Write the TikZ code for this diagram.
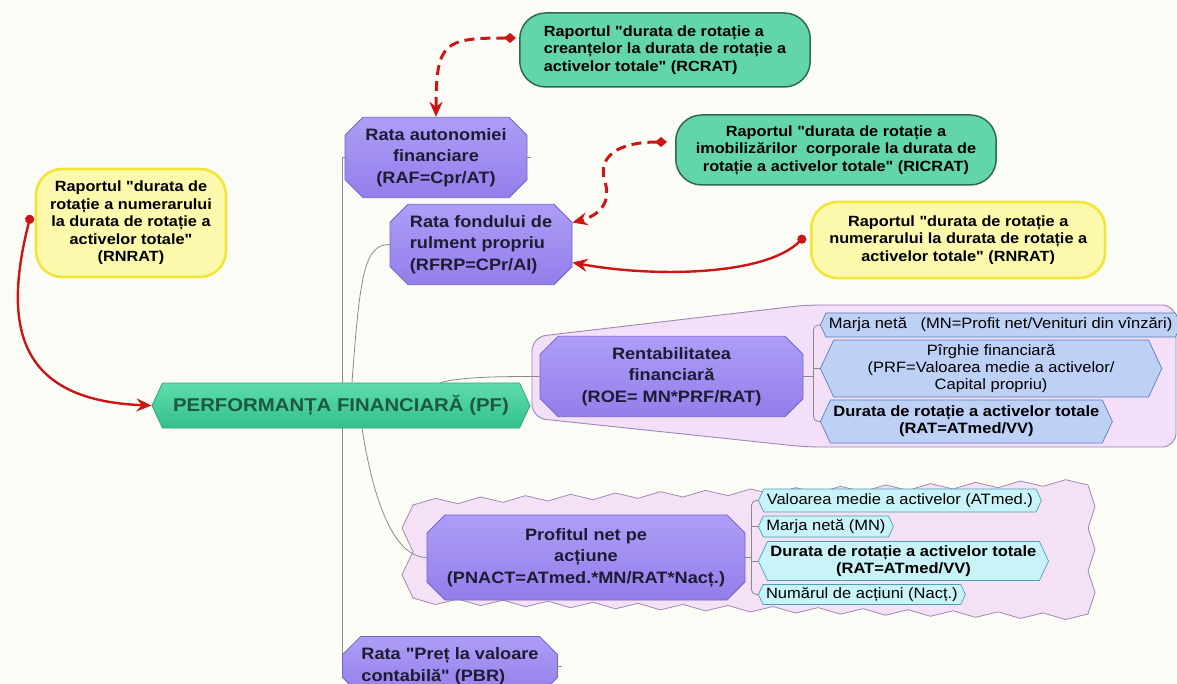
\documentclass[tikz,border=0pt]{standalone}
\usepackage{fontspec}
\setmainfont{Liberation Sans}[FakeStretch=1.1, Ligatures=TeXOff]
\usetikzlibrary{shapes.misc,shapes.symbols,arrows.meta,calc,backgrounds}
\definecolor{bgC}{HTML}{FCFCF6}
\definecolor{purpT}{HTML}{AE9DF7}
\definecolor{purpD}{HTML}{937EEA}
\definecolor{purpB}{HTML}{7565C6}
\definecolor{txtP}{HTML}{1E1B33}
\definecolor{pfT}{HTML}{5EDDAB}
\definecolor{pfD}{HTML}{33C08A}
\definecolor{pfB}{HTML}{2FA57A}
\definecolor{pfTxt}{HTML}{1C5844}
\definecolor{grnF}{HTML}{62D6A8}
\definecolor{grnB}{HTML}{2D6B4F}
\definecolor{yelF}{HTML}{FCF8AC}
\definecolor{yelB}{HTML}{F2E53A}
\definecolor{roeF}{HTML}{F3DFF7}
\definecolor{roeB}{HTML}{9E86B5}
\definecolor{pnaF}{HTML}{F5E1F6}
\definecolor{pnaB}{HTML}{A08AB2}
\definecolor{bluF}{HTML}{BDD0F5}
\definecolor{bluB}{HTML}{5E7FB6}
\definecolor{cyaF}{HTML}{C8F3F8}
\definecolor{cyaB}{HTML}{4E9FB2}
\definecolor{conC}{HTML}{8A8A8A}
\definecolor{redC}{HTML}{CC1616}
\newcommand\fmain{\fontsize{16.5}{21.5}\selectfont}
\newcommand\fpf{\fontsize{18.5}{22}\selectfont}
\newcommand\fcall{\fontsize{14.8}{17.5}\selectfont}
\newcommand\fsub{\fontsize{15}{17}\selectfont}
\begin{document}
\begin{tikzpicture}[x=1pt,y=-1pt,
  mainbox/.style={chamfered rectangle, chamfered rectangle xsep=9pt, chamfered rectangle ysep=9pt,
    draw=purpB, line width=0.8pt, top color=purpT, bottom color=purpD, text=txtP,
    font=\bfseries\fmain, inner sep=2pt, align=center},
  pfbox/.style={signal, signal to=west and east, signal pointer angle=130, draw=pfB, line width=0.8pt,
    top color=pfT, bottom color=pfD, text=pfTxt, font=\bfseries\fpf,
    minimum width=378pt, minimum height=45pt},
  greencall/.style={draw=grnB, line width=1.5pt, fill=grnF, rounded corners=26pt,
    font=\bfseries\fcall, inner xsep=20pt, inner ysep=6pt, minimum height=74pt},
  yelcall/.style={draw=yelB, line width=2.6pt, fill=yelF, rounded corners=26pt,
    font=\bfseries\fcall, inner xsep=18pt, inner ysep=6pt, align=center},
  subitem/.style={signal, signal to=west and east, signal pointer angle=130, line width=0.7pt,
    font=\fsub, align=center, inner xsep=3pt, inner ysep=2pt, anchor=west, text=black},
  bluesub/.style={subitem, draw=bluB, fill=bluF},
  cyansub/.style={subitem, draw=cyaB, fill=cyaF},
  conn/.style={draw=conC, line width=0.8pt},
  redsolid/.style={draw=redC, line width=2.4pt, {Circle[length=9pt]}-{Stealth[length=15pt,width=13pt,inset=5pt]}},
  reddash/.style={draw=redC, line width=3pt, dash pattern=on 10pt off 6pt,
    {Diamond[length=12pt,width=10pt]}-{Stealth[length=15pt,width=13pt,inset=5pt]}},
]
\useasboundingbox (0,0) rectangle (1177,684);

% main nodes
\node[pfbox] (PF) at (341,405.5) {PERFORMANȚA FINANCIARĂ (PF)};
\node[mainbox, minimum width=182pt, minimum height=65pt] (RAF) at (436,157.5) {Rata autonomiei\\financiare\\(RAF=Cpr/AT)};
\node[mainbox, minimum width=182pt, minimum height=65pt, align=left] (RFRP) at (481,244.5) {Rata fondului de\\rulment propriu\\(RFRP=CPr/AI)};
\node[mainbox, minimum width=263pt, minimum height=67pt] (ROE) at (671.5,376.5) {Rentabilitatea\\financiară\\(ROE= MN*PRF/RAT)};
\node[mainbox, minimum width=318pt, minimum height=85pt] (PNACT) at (586,557.5) {Profitul net pe\\acțiune\\(PNACT=ATmed.*MN/RAT*Nacț.)};
\node[mainbox, minimum width=215pt, minimum height=48pt, align=left] (PBR) at (450,666) {Rata "Preț la valoare\\contabilă" (PBR)};

% callouts
\node[greencall, anchor=west, align=left, inner xsep=24pt] (RCRAT) at (519,50) {Raportul "durata de rotație a\\creanțelor la durata de rotație a\\activelor totale" (RCRAT)};
\node[greencall, anchor=west, align=center, minimum height=70pt] (RICRAT) at (675,150) {Raportul "durata de rotație a\\imobilizărilor\ \ corporale la durata de\\rotație a activelor totale" (RICRAT)};
\node[yelcall, anchor=west, minimum height=76pt] (RNRATR) at (810,240) {Raportul "durata de rotație a\\numerarului la durata de rotație a\\activelor totale" (RNRAT)};
\node[yelcall, minimum height=108pt, inner xsep=14pt] (RNRATL) at (131,223) {Raportul "durata de\\rotație a numerarului\\la durata de rotație a\\activelor totale"\\(RNRAT)};

% sub items ROE
\node[bluesub, minimum height=24pt] (m1) at (820,325) {Marja netă\ \ \ (MN=Profit net/Venituri din vînzări)};
\node[bluesub, minimum height=57pt, inner xsep=34pt] (m2) at (820,368.5) {Pîrghie financiară\\(PRF=Valoarea medie a activelor/\\Capital propriu)};
\node[bluesub, minimum height=43pt, font=\bfseries\fsub] (m3) at (820,421.5) {Durata de rotație a activelor totale\\(RAT=ATmed/VV)};

% sub items PNACT
\node[cyansub, minimum height=23pt] (p1) at (758,500.5) {Valoarea medie a activelor (ATmed.)};
\node[cyansub, minimum height=21pt] (p2) at (758,526.5) {Marja netă (MN)};
\node[cyansub, minimum height=39pt, font=\bfseries\fsub] (p3) at (758,561) {Durata de rotație a activelor totale\\(RAT=ATmed/VV)};
\node[cyansub, minimum height=20pt] (p4) at (758,594.5) {Numărul de acțiuni (Nacț.)};

\coordinate (rb) at ($(ROE.east)+(10,0)$);
\coordinate (pb) at ($(PNACT.east)+(6,0)$);
\coordinate (vx) at ($(RAF.west)+(-2,0)$);

\begin{pgfonlayer}{background}
  \fill[bgC] (0,0) rectangle (1177,684);
  % groups
  \filldraw[fill=roeF, draw=roeB, line width=0.9pt, rounded corners=14pt]
    (532,337) -- (806,305) -- (1176,305) -- (1176,447) -- (806,447) -- (532,418) -- cycle;
  \filldraw[fill=pnaF, draw=pnaB, line width=0.8pt]
    (413,505)
    \foreach \i in {1,...,15}{ -- ++(22.5,-6.667) -- ++(22.5,5.333) }
    \foreach \i in {1,...,3}{ -- ++(7,21.5) -- ++(-7,21.5) }
    \foreach \i in {1,...,15}{ -- ++(-22.5,5.467) -- ++(-22.5,-6.533) }
    \foreach \i in {1,...,2}{ -- ++(-11,-23.25) -- ++(11,-23.25) }
    -- cycle;
  % connectors
  \draw[conn] (RAF.west) -- (vx) -- (vx |- PBR.west) -- (PBR.west);
  \draw[conn] (RAF.east) -- ++(4,0);
  \draw[conn] (PBR.east) -- ++(4,0);
  \draw[conn] ($(PF.north)+(11,0)$) .. controls +(8,-110) and +(-25,0) .. (RFRP.west);
  \draw[conn] ($(PF.north)+(99,0)$) .. controls +(25,-6) and +(-40,0) .. (ROE.west);
  \draw[conn] ($(PF.south)+(21,0)$) .. controls +(15,95) and +(-25,0) .. (PNACT.west);
  \draw[conn] (ROE.east) -- (rb);
  \draw[conn, rounded corners=5pt] (m1.west) -| (rb) |- (m3.west);
  \draw[conn] (m2.west) -- (m2.west -| rb);
  \draw[conn] (PNACT.east) -- (pb);
  \draw[conn, rounded corners=5pt] (p1.west) -| (pb) |- (p4.west);
  \draw[conn] (p2.west) -- (p2.west -| pb);
  \draw[conn] (p3.west) -- (p3.west -| pb);
\end{pgfonlayer}

% red arrows
\draw[reddash] ($(RCRAT.west)+(-3,-12)$) .. controls +(-72,0) and +(0,-75) .. (RAF.north);
\draw[reddash] ($(RICRAT.west)+(-8,-8)$) .. controls +(-50,0) and +(-8,-25) .. ++(-62,40)
   .. controls +(8,25) and +(20,-5) .. ($(RFRP.east)+(0,-22)$);
\draw[redsolid] ($(RNRATR.west)+(-5,-4)$) .. controls +(-40,40) and +(80,15) .. ($(RFRP.east)+(0,18)$);
\draw[redsolid] ($(RNRATL.west)+(-4,-8)$) .. controls +(-28,110) and +(-135,-5) .. (PF.west);
\end{tikzpicture}
\end{document}
